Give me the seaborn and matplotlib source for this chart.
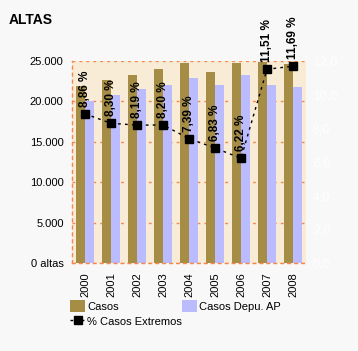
import numpy as np
import pandas as pd
import matplotlib
matplotlib.use("Agg")
import matplotlib.pyplot as plt
import seaborn as sns
from matplotlib.patches import Patch
from matplotlib.lines import Line2D
from matplotlib.ticker import FixedLocator, FuncFormatter

# ---- data ----
years = ["2000", "2001", "2002", "2003", "2004", "2005", "2006", "2007", "2008"]
casos = [21900, 22650, 23300, 24000, 24800, 23650, 24800, 24900, 24650]
casos_depu = [20100, 20800, 21500, 22050, 22900, 22050, 23300, 22050, 21800]
pct_extremos = [8.86, 8.30, 8.19, 8.20, 7.39, 6.83, 6.22, 11.51, 11.69]
series_names = ["Casos", "Casos Depu. AP"]
line_name = "% Casos Extremos"
left_ticks = [0, 5000, 10000, 15000, 20000, 25000]
right_ticks = [0, 2, 4, 6, 8, 10, 12]

# ---- style ----
FONT = "Liberation Sans"
plt.rcParams["font.family"] = [FONT, "DejaVu Sans"]
OLIVE = "#a68d45"
LAV = "#bbbbff"
BEIGE = "#f8ecd6"
FIGBG = "#f8f8f8"
GRID = "#f5874f"

df = pd.DataFrame({
    "year": years * 2,
    "valor": casos + casos_depu,
    "serie": [series_names[0]] * len(years) + [series_names[1]] * len(years),
})

fig = plt.figure(figsize=(3.58, 3.51), dpi=100, facecolor=FIGBG)
ax = fig.add_axes([72 / 358, 1 - 263 / 351, (306 - 72) / 358, (263 - 61) / 351])
ax.set_facecolor(BEIGE)

sns.barplot(data=df, x="year", y="valor", hue="serie", order=years,
            hue_order=series_names, palette={series_names[0]: OLIVE, series_names[1]: LAV},
            width=0.66, saturation=1, legend=False, ax=ax, linewidth=0)

ax.set_xlim(-0.5, len(years) - 0.5)
ax.set_ylim(0, 25000)
ax.yaxis.set_major_locator(FixedLocator(left_ticks))
ax.yaxis.set_major_formatter(FuncFormatter(
    lambda v, p: "0 altas" if v == 0 else f"{int(v):,}".replace(",", ".")))
ax.set_xlabel("")
ax.set_ylabel("")
ax.tick_params(axis="y", length=0, pad=6, labelsize=8, colors="black")
ax.tick_params(axis="x", length=0, pad=6.5, labelsize=8, rotation=90)
ax.grid(axis="y", color=GRID, linestyle=(0, (2, 3)), linewidth=1)
ax.set_axisbelow(True)
for s in ["top", "right"]:
    ax.spines[s].set_visible(False)
for s in ["left", "bottom"]:
    ax.spines[s].set_color(GRID)
    ax.spines[s].set_linestyle((0, (2, 3)))
    ax.spines[s].set_linewidth(1)

# ---- right axis line ----
ax2 = ax.twinx()
xpos = np.arange(len(years))
ax2.plot(xpos, pct_extremos, color="black", linestyle=(0, (2, 3)), linewidth=1,
         marker="s", markersize=6, markerfacecolor="black", markeredgecolor="black")
ax2.set_ylim(0, 12)
ax2.yaxis.set_major_locator(FixedLocator(right_ticks))
ax2.yaxis.set_major_formatter(FuncFormatter(lambda v, p: f"{v:.1f}".replace(".", ",")))
ax2.tick_params(axis="y", length=0, pad=5, labelsize=9, labelcolor="white")
for s in ax2.spines.values():
    s.set_visible(False)

for x, v in zip(xpos, pct_extremos):
    ax2.annotate(f"{v:.2f} %".replace(".", ","), (x, v), xytext=(0, 5),
                 textcoords="offset points", rotation=90, ha="center", va="bottom",
                 fontsize=8.5, fontweight="bold", color="black")

# ---- title ----
fig.text(9 / 358, 1 - 24 / 351, "ALTAS", fontsize=10, fontweight="bold",
         ha="left", va="baseline")

# ---- legend ----
handles = [
    Patch(facecolor=OLIVE, edgecolor="none", label=series_names[0]),
    Line2D([0], [0], color="black", linestyle=(0, (2, 2)), linewidth=1, marker="s",
           markersize=6, label=line_name),
    Patch(facecolor=LAV, edgecolor="none", label=series_names[1]),
]
fig.legend(handles=handles, loc="upper left", bbox_to_anchor=(70 / 358, 1 - 300 / 351),
           ncol=2, frameon=False, fontsize=8, borderpad=0, borderaxespad=0,
           handlelength=1.35, handleheight=1.25, handletextpad=0.2,
           labelspacing=0.3, columnspacing=0.0)

fig.savefig("out.png", dpi=100, facecolor=FIGBG)
